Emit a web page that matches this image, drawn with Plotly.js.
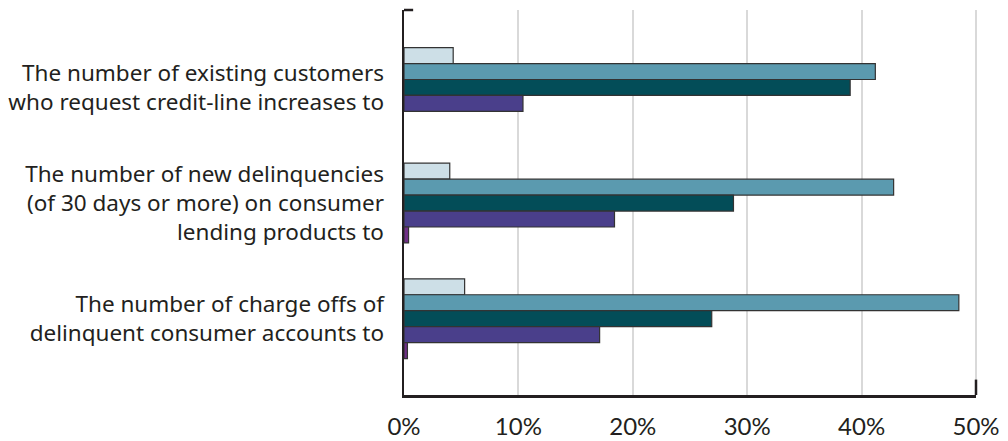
<!DOCTYPE html>
<html>
<head>
<meta charset="utf-8">
<script src="https://cdn.plot.ly/plotly-3.0.1.min.js"></script>
<style>html,body{margin:0;padding:0;background:#fff;}#chart{width:1008px;height:441px;}</style>
</head>
<body>
<div id="chart"></div>
<script>
var categories = [
  "The number of existing customers<br>who request credit-line increases to",
  "The number of new delinquencies<br>(of 30 days or more) on consumer<br>lending products to",
  "The number of charge offs of<br>delinquent consumer accounts to"
];
var seriesA = [4.3, 4.0, 5.3];     // light blue
var seriesB = [41.2, 42.8, 48.5];  // teal
var seriesC = [39.0, 28.8, 26.9];  // dark teal
var seriesD = [10.4, 18.4, 17.1];  // purple
var seriesE = [null, 0.4, 0.3];    // dark purple
var tickValues = [0, 10, 20, 30, 40, 50];
var tickLabels = ["0%", "10%", "20%", "30%", "40%", "50%"];

var colors = ["#cddfe7", "#5b9aaf", "#034d58", "#4a3f8b", "#6f2f86"];
var series = [seriesA, seriesB, seriesC, seriesD, seriesE];
var traces = series.map(function (vals, i) {
  return {
    type: "bar",
    orientation: "h",
    y: categories,
    x: vals,
    marker: { color: colors[i], line: { color: "#333333", width: 1.2 } },
    hoverinfo: "x"
  };
});

var layout = {
  width: 1008,
  height: 441,
  margin: { l: 404, r: 32, t: 10, b: 46 },
  paper_bgcolor: "#ffffff",
  plot_bgcolor: "#ffffff",
  showlegend: false,
  barmode: "group",
  bargap: 0.31,
  bargroupgap: 0,
  xaxis: {
    range: [0, 50],
    tickvals: tickValues,
    ticktext: tickLabels,
    showgrid: true,
    gridcolor: "#d9d9d9",
    gridwidth: 2,
    zeroline: false,
    showline: true,
    linecolor: "#231f20",
    linewidth: 2.5,
    ticks: "",
    ticklabelstandoff: 9,
    tickfont: { family: "Lato", size: 24, color: "#231f20" },
    fixedrange: true
  },
  yaxis: {
    type: "category",
    range: [2.66, -0.67],
    showgrid: false,
    zeroline: false,
    showline: true,
    linecolor: "#231f20",
    linewidth: 2.5,
    ticks: "",
    ticklabelstandoff: 13,
    tickfont: { family: "Noto Sans", size: 22.5, color: "#231f20" },
    fixedrange: true
  },
  shapes: [
    { type: "line", xref: "paper", yref: "paper", x0: 1, x1: 1, y0: 0, y1: 1,
      layer: "below", line: { color: "#d9d9d9", width: 2 } },
    { type: "line", xref: "paper", yref: "paper", x0: 0, x1: 0.016, y0: 1, y1: 1,
      line: { color: "#231f20", width: 2.5 } },
    { type: "line", xref: "paper", yref: "paper", x0: 1, x1: 1, y0: 0, y1: 0.04,
      line: { color: "#231f20", width: 2.5 } }
  ]
};

Plotly.newPlot("chart", traces, layout, { displayModeBar: false, staticPlot: true });
</script>
</body>
</html>
